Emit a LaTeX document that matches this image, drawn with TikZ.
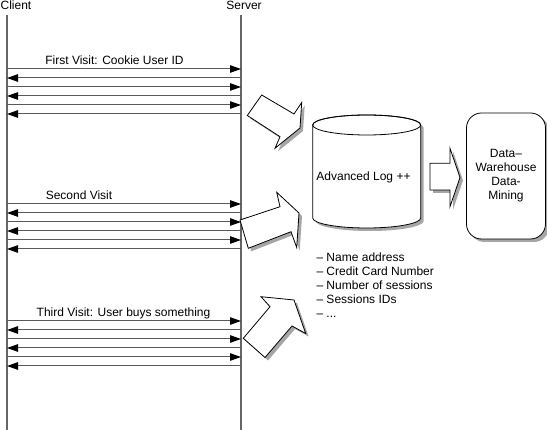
\documentclass[tikz,border=0pt]{standalone}
\usepackage{fontspec}
\setmainfont{Liberation Sans}
\usetikzlibrary{arrows.meta}
\begin{document}
\begin{tikzpicture}[x=1pt,y=-1pt,
  every node/.style={font=\fontsize{12}{14}\selectfont, inner sep=0pt, outer sep=0pt},
  lifeline/.style={draw=black!60, line width=1.4pt},
  msg/.style={draw=black!65, line width=1pt, -{Triangle[length=11pt,width=7.5pt,color=black]}},
  shade/.style={fill=black!35, draw=none},
  blockarrow/.style={fill=white, draw=black, line width=0.8pt, line join=miter},
  lbl/.style={anchor=base},
]
\useasboundingbox (0,0) rectangle (547,430);

% lifelines
\node[lbl] (client) at (16,10) {Client};
\node[lbl] (server) at (244,10) {Server};
\coordinate (ctop) at (7,15);  \coordinate (cbot) at (7,431);
\coordinate (stop) at (241,15); \coordinate (sbot) at (241,431);
\draw[lifeline] (ctop) -- (cbot);
\draw[lifeline] (stop) -- (sbot);

% messages
\foreach \y [count=\i] in {69,78,87,96,105,114,204,213,222,231,240,249,321,330,339,348,357,366} {
  \coordinate (c\i) at (7,\y);
  \coordinate (s\i) at (241,\y);
}
\foreach \i in {1,3,5,7,9,11,13,15,17} \draw[msg] (c\i) -- (s\i);
\foreach \i in {2,4,6,8,10,12,14,16,18} \draw[msg] (s\i) -- (c\i);

\node[lbl] (m1) at (114.5,64.5) {First Visit: Cookie User ID};
\node[lbl] (m2) at (79,199.5) {Second Visit};
\node[lbl] (m3) at (123.5,316.5) {Third Visit: User buys something};

% block arrows
\def\arrA{(261.7,95) -- (294,114) -- (301.7,102.5) -- (300,128) -- (275,148.3) -- (280,136.7) -- (247.3,115.5) -- cycle}
\def\arrB{(240,220) -- (280,206.7) -- (276.7,192.3) -- (299,213) -- (296.7,247.5) -- (291,231.7) -- (248.3,248.3) -- cycle}
\def\arrC{(243.3,338.3) -- (270,306.7) -- (261,296.7) -- (294,300) -- (305.7,333.5) -- (292,326) -- (265,357.5) -- cycle}
\def\arrD{(430,163.3) -- (450,163.3) -- (450,148.3) -- (460,177.5) -- (450,206.7) -- (450,190) -- (430,190) -- cycle}
\foreach \p in {\arrA,\arrB,\arrC,\arrD} {
  \fill[shade, shift={(3,3)}] \p;
  \filldraw[blockarrow] \p;
}

% cylinder
\def\cyl{(312.7,125) -- (312.7,218) arc[start angle=180,end angle=0,x radius=54,y radius=10] -- (420.7,125) arc[start angle=0,end angle=-180,x radius=54,y radius=10] -- cycle}
\fill[shade, shift={(3,3)}] \cyl;
\filldraw[blockarrow] \cyl;
\draw[line width=0.8pt] (366.7,125) ellipse[x radius=54, y radius=10];
\node[lbl] (log) at (363.5,180.5) {Advanced Log ++};

% data warehouse box
\fill[shade, rounded corners=15pt] (469.5,116) rectangle (549,242);
\node[draw, fill=white, line width=0.8pt, rounded corners=15pt, minimum width=79pt, minimum height=126pt, align=center] (dw) at (506,176) {Data–\\Warehouse\\Data-\\Mining};

% list
\node[anchor=north west, align=left] (list) at (316.5,252.5) {– Name address\\– Credit Card Number\\– Number of sessions\\– Sessions IDs\\– ...};
\end{tikzpicture}
\end{document}
